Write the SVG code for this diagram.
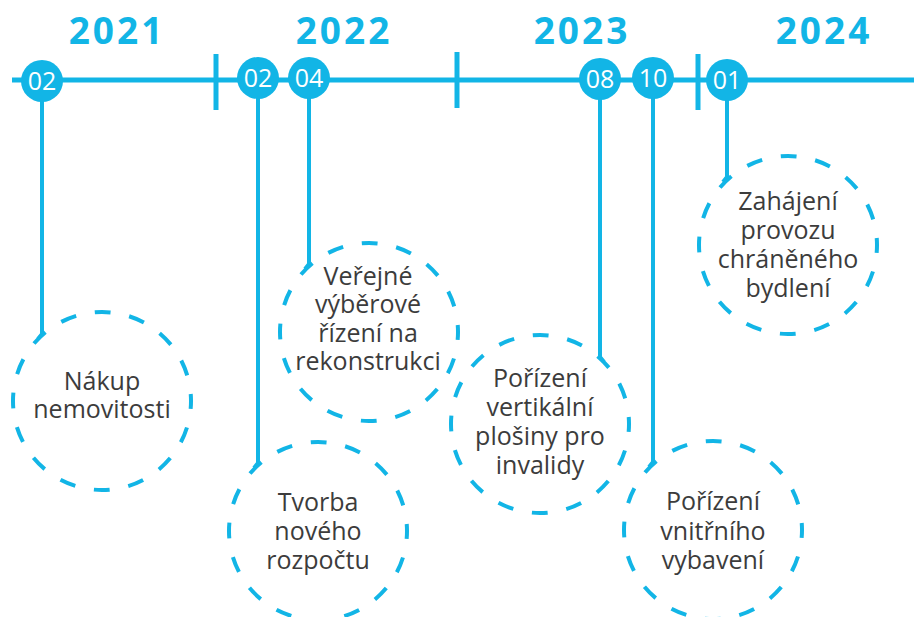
<svg xmlns="http://www.w3.org/2000/svg" width="914" height="617" viewBox="0 0 914 617">
<style>
.axis{stroke:#12B5E6;stroke-width:5;fill:none}
.conn{stroke:#12B5E6;stroke-width:4;fill:none;stroke-linejoin:miter}
.ring{stroke:#12B5E6;stroke-width:4;fill:none;stroke-dasharray:16 18.95;stroke-dashoffset:8}
.dot{fill:#12B5E6}
.num{fill:#fff;font-family:"Open Sans",sans-serif;font-size:25px;text-anchor:middle}
.year{fill:#12B5E6;font-family:"Open Sans",sans-serif;font-weight:bold;font-size:37px;letter-spacing:3px;text-anchor:middle}
.lbl{fill:#3C3C3C;font-family:"Open Sans",sans-serif;font-size:25px;text-anchor:middle}
</style>
<rect width="914" height="617" fill="#fff"/>
<g id="years">
<text class="year" x="117" y="44">2021</text>
<text class="year" x="344" y="44">2022</text>
<text class="year" x="582" y="44">2023</text>
<text class="year" x="824" y="44">2024</text>
</g>
<g id="axis">
<line class="axis" x1="12" y1="80" x2="914" y2="80"/>
<line class="axis" x1="216" y1="54" x2="216" y2="110"/>
<line class="axis" x1="457" y1="52" x2="457" y2="108"/>
<line class="axis" x1="698" y1="54" x2="698" y2="110"/>
</g>
<g id="connectors">
<polyline class="conn" points="42,80 42,334 38,339"/>
<polyline class="conn" points="258,80 258,463 254,468"/>
<polyline class="conn" points="309,80 309,264 305,269"/>
<polyline class="conn" points="600,80 600,357 604,362"/>
<polyline class="conn" points="653,80 653,462 649,467"/>
<polyline class="conn" points="727,80 727,177 723,182"/>
</g>
<g id="m1"><circle class="dot" cx="42" cy="81" r="21"/><text class="num" x="42" y="90">02</text></g>
<g id="m2"><circle class="dot" cx="258" cy="78" r="21"/><text class="num" x="258" y="87">02</text></g>
<g id="m3"><circle class="dot" cx="309" cy="78" r="21"/><text class="num" x="309" y="87">04</text></g>
<g id="m4"><circle class="dot" cx="600" cy="79" r="21"/><text class="num" x="600" y="88">08</text></g>
<g id="m5"><circle class="dot" cx="653" cy="78" r="21"/><text class="num" x="653" y="87">10</text></g>
<g id="m6"><circle class="dot" cx="727" cy="80" r="21"/><text class="num" x="727" y="89">01</text></g>
<g id="e1"><circle class="ring" cx="102" cy="401" r="89"/>
<text class="lbl" x="102" y="390">Nákup</text><text class="lbl" x="102" y="418">nemovitosti</text></g>
<g id="e2"><circle class="ring" cx="318" cy="531" r="89"/>
<text class="lbl" x="318" y="511">Tvorba</text><text class="lbl" x="318" y="540">nového</text><text class="lbl" x="318" y="569">rozpočtu</text></g>
<g id="e3"><circle class="ring" cx="369" cy="332" r="89"/>
<text class="lbl" x="368" y="285">Veřejné</text><text class="lbl" x="368" y="313">výběrové</text><text class="lbl" x="368" y="342">řízení na</text><text class="lbl" x="368" y="370">rekonstrukci</text></g>
<g id="e4"><circle class="ring" cx="540" cy="424" r="89"/>
<text class="lbl" x="540" y="387">Pořízení</text><text class="lbl" x="540" y="416">vertikální</text><text class="lbl" x="540" y="445">plošiny pro</text><text class="lbl" x="540" y="474">invalidy</text></g>
<g id="e5"><circle class="ring" cx="713" cy="530" r="89"/>
<text class="lbl" x="713" y="510">Pořízení</text><text class="lbl" x="713" y="540">vnitřního</text><text class="lbl" x="713" y="569">vybavení</text></g>
<g id="e6"><circle class="ring" cx="788" cy="245" r="89"/>
<text class="lbl" x="788" y="210">Zahájení</text><text class="lbl" x="788" y="239">provozu</text><text class="lbl" x="788" y="268">chráněného</text><text class="lbl" x="788" y="297">bydlení</text></g>
</svg>
